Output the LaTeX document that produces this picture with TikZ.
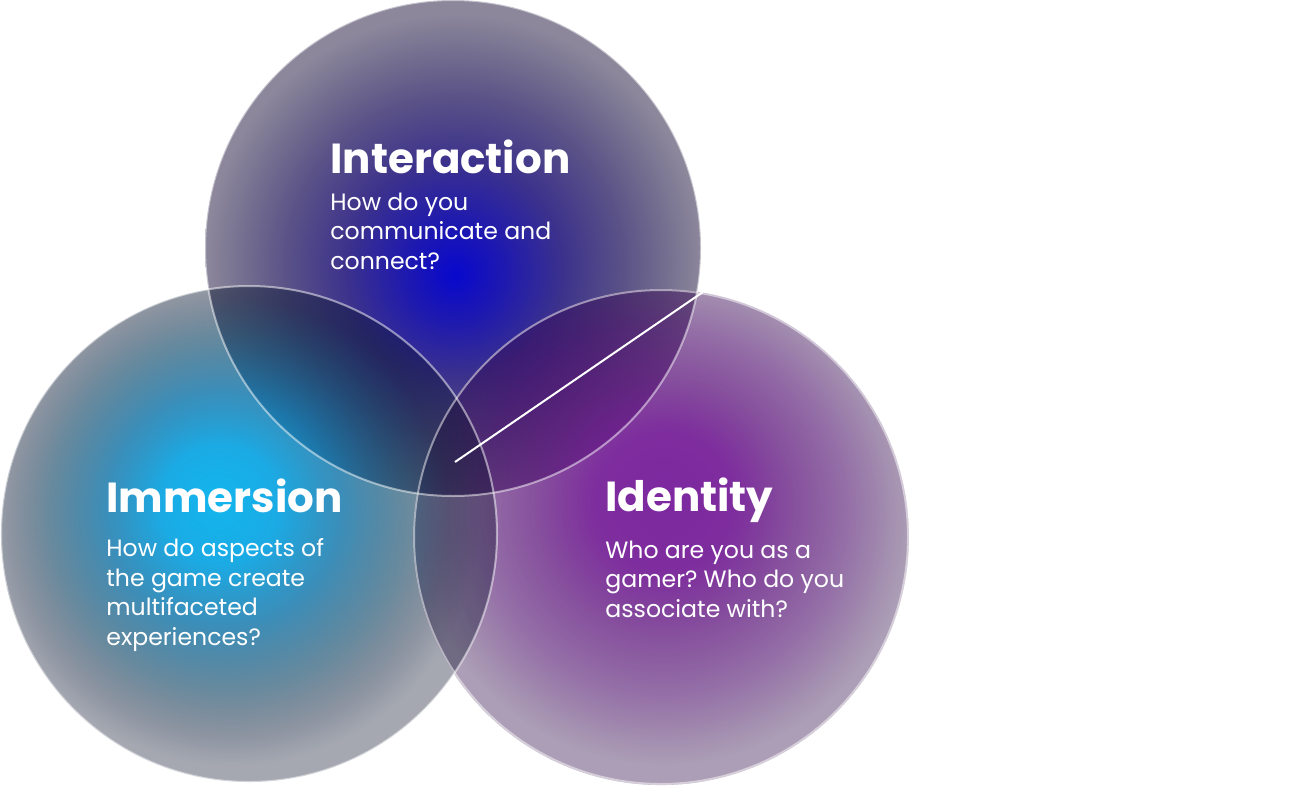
\documentclass[tikz,border=0pt]{standalone}
\usepackage{fontspec}
\setmainfont{Poppins}
\usetikzlibrary{fadings}
\frenchspacing

% --- Interaction disc: opaque, it lies at the bottom
\definecolor{ia0}{RGB}{8,8,205}
\definecolor{ia1}{RGB}{30,25,175}
\definecolor{ia2}{RGB}{60,50,140}
\definecolor{ia3}{RGB}{90,82,135}
\definecolor{ia4}{RGB}{120,115,145}
\definecolor{ia5}{RGB}{140,135,155}
\pgfdeclareradialshading{interactionshade}{\pgfpoint{0.2bp}{-2.7bp}}{%
  color(0bp)=(ia0); color(5bp)=(ia1); color(11bp)=(ia2); color(17bp)=(ia3);
  color(22bp)=(ia4); color(25bp)=(ia5); color(50bp)=(ia5)}

% --- Identity disc: colour and opacity both fall off towards the rim
\definecolor{id0}{RGB}{125,40,160}
\definecolor{id1}{RGB}{112,22,147}
\definecolor{id2}{RGB}{88,12,120}
\definecolor{id3}{RGB}{68,5,100}
\definecolor{id4}{RGB}{48,13,73}
\definecolor{ida0}{gray}{1}
\definecolor{ida1}{gray}{0.90}
\definecolor{ida2}{gray}{0.72}
\definecolor{ida3}{gray}{0.56}
\definecolor{ida4}{gray}{0.40}
\pgfdeclareradialshading{identityshade}{\pgfpoint{0.4bp}{4.2bp}}{%
  color(0bp)=(id0); color(7bp)=(id1); color(13bp)=(id2); color(19bp)=(id3);
  color(25bp)=(id4); color(50bp)=(id4)}
\pgfdeclareradialshading{identitymask}{\pgfpoint{0.4bp}{4.2bp}}{%
  color(0bp)=(ida0); color(7bp)=(ida1); color(13bp)=(ida2); color(19bp)=(ida3);
  color(25bp)=(ida4); color(50bp)=(ida4)}
\pgfdeclarefading{identityfade}{\pgfuseshading{identitymask}}

% --- Immersion disc: on top of the other two
\definecolor{im0}{RGB}{18,182,238}
\definecolor{im1}{RGB}{8,163,226}
\definecolor{im2}{RGB}{5,110,165}
\definecolor{im3}{RGB}{5,60,93}
\definecolor{im4}{RGB}{5,22,50}
\definecolor{im5}{RGB}{5,14,40}
\definecolor{ima0}{gray}{1}
\definecolor{ima1}{gray}{0.92}
\definecolor{ima2}{gray}{0.78}
\definecolor{ima3}{gray}{0.60}
\definecolor{ima4}{gray}{0.46}
\definecolor{ima5}{gray}{0.36}
\pgfdeclareradialshading{immersionshade}{\pgfpoint{-3.4bp}{3.4bp}}{%
  color(0bp)=(im0); color(6bp)=(im1); color(12bp)=(im2); color(18bp)=(im3);
  color(22bp)=(im4); color(25bp)=(im5); color(50bp)=(im5)}
\pgfdeclareradialshading{immersionmask}{\pgfpoint{-3.4bp}{3.4bp}}{%
  color(0bp)=(ima0); color(6bp)=(ima1); color(12bp)=(ima2); color(18bp)=(ima3);
  color(22bp)=(ima4); color(25bp)=(ima5); color(50bp)=(ima5)}
\pgfdeclarefading{immersionfade}{\pgfuseshading{immersionmask}}

\tikzset{
  disc/.style={circle, inner sep=0pt, minimum size=248pt},
  rim/.style={draw=white, draw opacity=0.5, line width=1pt},
  heading/.style={anchor=base west, inner sep=0pt, text=white,
    font=\fontsize{21}{25}\selectfont\bfseries},
  blurb/.style={anchor=base west, inner sep=0pt, text=white, align=left,
    font=\fontsize{11.8}{14.75}\selectfont},
  pointer/.style={draw=white, line width=1pt}
}

\begin{document}
\begin{tikzpicture}[x=0.5pt, y=-0.5pt]
  \useasboundingbox (0,0) rectangle (1316,787);

  % the three overlapping discs
  \node[disc, shading=interactionshade] (interaction) at (453,248) {};
  \node[disc, shading=identityshade, path fading=identityfade] (identity) at (661,537) {};
  \node[disc, shading=immersionshade, path fading=immersionfade] (immersion) at (249,534) {};

  % light rims
  \draw[rim] (interaction.center) circle[radius=248];
  \draw[rim] (immersion.center) circle[radius=248];
  \draw[rim] (identity.center) circle[radius=247];

  % pointer into the common centre
  \coordinate (hub) at (455,462);
  \coordinate (rimpoint) at (703,292);
  \draw[pointer] (hub) -- (rimpoint);

  % labels (blurbs are placed by the baseline of their last line)
  \node[heading] (interactionTitle) at (330,173) {Interaction};
  \node[blurb] (interactionText) at (330,269) {How do you\\communicate and\\connect?};

  \node[heading] (immersionTitle) at (106,512) {Immersion};
  \node[blurb] (immersionText) at (106,645) {How do aspects of\\the game create\\multifaceted\\experiences?};

  \node[heading] (identityTitle) at (605,511) {Identity};
  \node[blurb] (identityText) at (605,617) {Who are you as a\\gamer? Who do you\\associate with?};
\end{tikzpicture}
\end{document}
